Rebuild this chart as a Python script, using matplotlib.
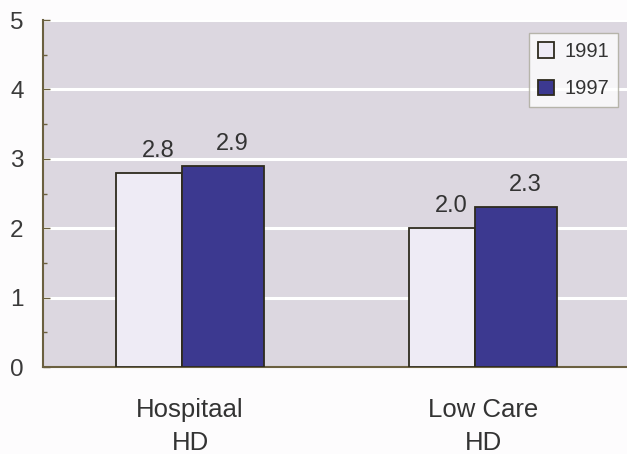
import matplotlib.pyplot as plt
import numpy as np

groups = ['Hospitaal\nHD', 'Low Care\nHD']
years = ['1991', '1997']
v1991 = [2.8, 2.0]
v1997 = [2.9, 2.3]

plt.rcParams['font.family'] = ['Liberation Sans', 'DejaVu Sans']

fig = plt.figure(figsize=(6.27, 4.54), dpi=100)
fig.patch.set_facecolor('#fdfcfd')
ax = fig.add_axes([0.0686, 0.1916, 0.9314, 0.7643])
ax.set_facecolor('#dcd7e0')

x = np.arange(len(groups))
edge = '#2e2b1e'
b1 = ax.bar(x - 0.252, v1991, width=0.225, align='edge', color='#eeebf5',
            edgecolor=edge, linewidth=1.3, zorder=3, label=years[0])
b2 = ax.bar(x - 0.027, v1997, width=0.28, align='edge', color='#3c3990',
            edgecolor=edge, linewidth=1.3, zorder=3, label=years[1])

# value labels sit a little right of the bar centre
for bars in (b1, b2):
    for r in bars:
        ax.text(r.get_x() + r.get_width() / 2 + 0.03, r.get_height() + 0.23,
                '%.1f' % r.get_height(), ha='center', va='baseline',
                fontsize=17, color='#333333')

ax.set_xlim(-0.502, 1.491)
ax.set_ylim(0, 5)
ax.set_yticks([0, 1, 2, 3, 4, 5])
ax.set_yticks(np.arange(0.5, 5, 1), minor=True)
ax.yaxis.grid(True, color='white', linewidth=2.2, zorder=1)
ax.set_axisbelow(True)
ax.tick_params(axis='y', which='major', direction='in', length=5, width=1,
               color='#6b6040', labelsize=17.5, labelcolor='#3a3a3a', pad=14)
ax.tick_params(axis='y', which='minor', direction='in', length=3, width=1,
               color='#6b6040')
ax.set_xticks(x)
ax.set_xticklabels(groups, fontsize=18.5, color='#333333', linespacing=1.5)
ax.tick_params(axis='x', length=0, pad=22)

for s in ('top', 'right'):
    ax.spines[s].set_visible(False)
ax.spines['left'].set_color('#6b6040')
ax.spines['left'].set_linewidth(1.5)
ax.spines['bottom'].set_color('#6b6040')
ax.spines['bottom'].set_linewidth(1.5)

leg = ax.legend(loc='upper right', bbox_to_anchor=(0.985, 0.9625), fontsize=14.5,
                frameon=True, fancybox=False, handlelength=0.8, handleheight=0.8,
                handletextpad=0.5, borderpad=0.45, labelspacing=0.9,
                borderaxespad=0)
leg.get_frame().set_facecolor('white')
leg.get_frame().set_edgecolor('#aaa89a')
leg.get_frame().set_linewidth(1)
for t in leg.get_texts():
    t.set_color('#333333')

fig.savefig('out.png', dpi=100, facecolor=fig.get_facecolor())
